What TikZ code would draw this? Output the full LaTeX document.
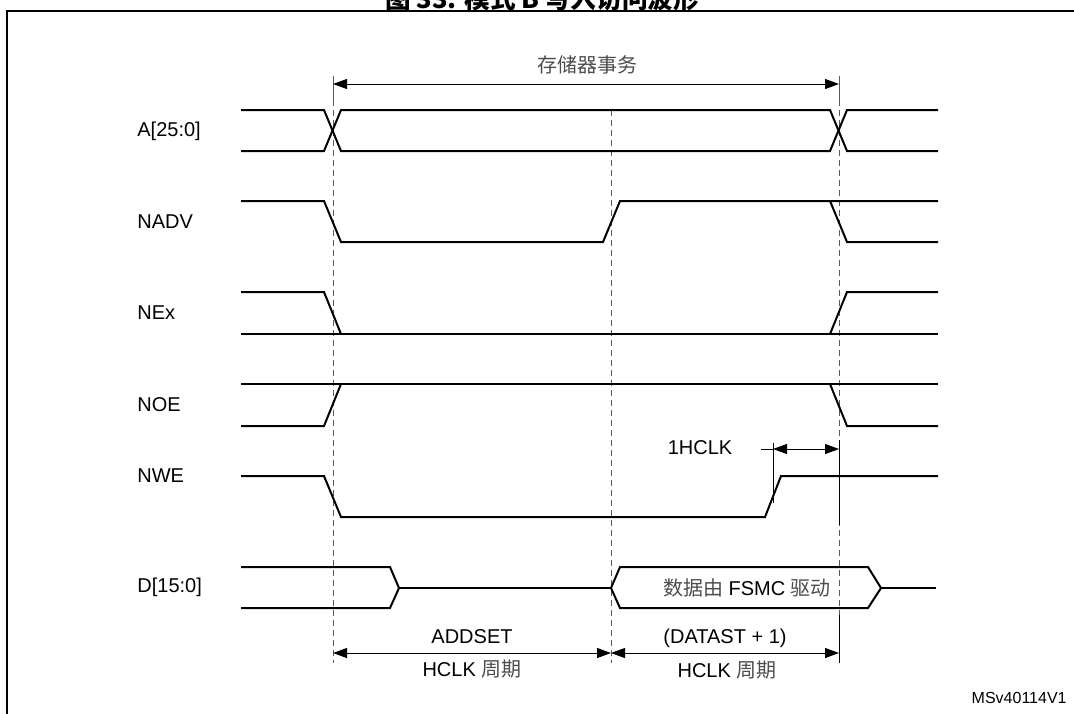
\documentclass[tikz,border=0pt]{standalone}
\usepackage{fontspec}
\setmainfont{Liberation Sans}
\newfontfamily\cjk{Noto Sans CJK SC}
\usetikzlibrary{arrows.meta}

\newcommand{\zh}[1]{{\cjk\color{black!70}#1}}

\begin{document}
\begin{tikzpicture}[x=0.5pt, y=-0.5pt,
    every node/.style={font=\fontsize{10}{12}\selectfont, inner sep=0pt},
    wave/.style={line width=1pt},
    guide/.style={line width=0.5pt, dash pattern=on 3pt off 2pt, black!65},
    dim/.style={line width=0.5pt, {Triangle[length=7pt,width=5pt]}-{Triangle[length=7pt,width=5pt]}},
    siglabel/.style={anchor=west}]
    \useasboundingbox (0,0) rectangle (1074,713);

    % frame and (cut) caption
    \draw[line width=1.25pt] (7,730) -- (7,11) -- (1090,11);
    \node[anchor=base, font=\fontsize{12.8}{15}\selectfont\cjk\bfseries] (title) at (542,8) {图 33. 模式 B 写入访问波形};

    % signal names
    \node[siglabel] (lA) at (137,131) {A[25:0]};
    \node[siglabel] (lNADV) at (137,222) {NADV};
    \node[siglabel] (lNEx) at (137,313) {NEx};
    \node[siglabel] (lNOE) at (137,405) {NOE};
    \node[siglabel] (lNWE) at (137,476) {NWE};
    \node[siglabel] (lD) at (137,587) {D[15:0]};

    % time marks
    \draw[line width=0.5pt, black!65] (333,76) -- (333,100);
    \draw[line width=0.5pt, black!65] (839,76) -- (839,100);
    \draw[guide] (333,100) -- (333,663);
    \draw[guide] (611,110) -- (611,663);
    \draw[guide] (839,100) -- (839,663);
    \draw[line width=0.5pt] (839,440) -- (839,525);
    \draw[line width=0.5pt] (839,615) -- (839,663);

    % A[25:0]
    \draw[wave] (241,110) -- (324,110) -- (341,151) -- (830,151) -- (847,110) -- (938,110);
    \draw[wave] (241,151) -- (324,151) -- (341,110) -- (830,110) -- (847,151) -- (938,151);
    % NADV
    \draw[wave] (241,201) -- (324,201) -- (341,242) -- (603,242) -- (620,201) -- (938,201);
    \draw[wave] (830,201) -- (847,242) -- (938,242);
    % NEx
    \draw[wave] (241,334) -- (938,334);
    \draw[wave] (241,292) -- (324,292) -- (341,334);
    \draw[wave] (830,334) -- (847,292) -- (938,292);
    % NOE
    \draw[wave] (241,384) -- (938,384);
    \draw[wave] (241,426) -- (324,426) -- (341,384);
    \draw[wave] (830,384) -- (847,426) -- (938,426);
    % NWE
    \draw[wave] (241,476) -- (324,476) -- (341,517) -- (765,517) -- (781,476) -- (938,476);
    % D[15:0]
    \draw[wave] (241,567) -- (390,567) -- (399,588) -- (390,608) -- (241,608);
    \draw[wave] (399,588) -- (611,588);
    \draw[wave] (611,588) -- (620,567) -- (868,567) -- (881,588) -- (868,608) -- (620,608) -- cycle;
    \draw[wave] (881,588) -- (936,588);
    \node (data) at (747,588) {\zh{数据由} FSMC \zh{驱动}};

    % memory transaction
    \coordinate (memL) at (333,84);
    \coordinate (memR) at (839,84);
    \draw[dim] (memL) -- (memR);
    \node (mem) at (587,65) {\zh{存储器事务}};

    % 1HCLK
    \draw[line width=0.5pt] (773,443) -- (773,503);
    \coordinate (hclkS) at (761,449);
    \coordinate (hclkL) at (773,449);
    \coordinate (hclkR) at (839,449);
    \draw[line width=0.5pt] (hclkS) -- (hclkL);
    \draw[dim] (hclkL) -- (hclkR);
    \node (hclk) at (700,448) {1HCLK};

    % phase durations
    \coordinate (addL) at (333,653);
    \coordinate (addR) at (611,653);
    \coordinate (datR) at (839,653);
    \draw[dim] (addL) -- (addR);
    \draw[dim] (addR) -- (datR);
    \node (addset) at (472,637) {ADDSET};
    \node (addunit) at (472,669) {HCLK \zh{周期}};
    \node (datast) at (725,638) {(DATAST + 1)};
    \node (datunit) at (727,670) {HCLK \zh{周期}};

    \node[anchor=east, font=\fontsize{8}{10}\selectfont] (ref) at (1067,698) {MSv40114V1};
\end{tikzpicture}
\end{document}
